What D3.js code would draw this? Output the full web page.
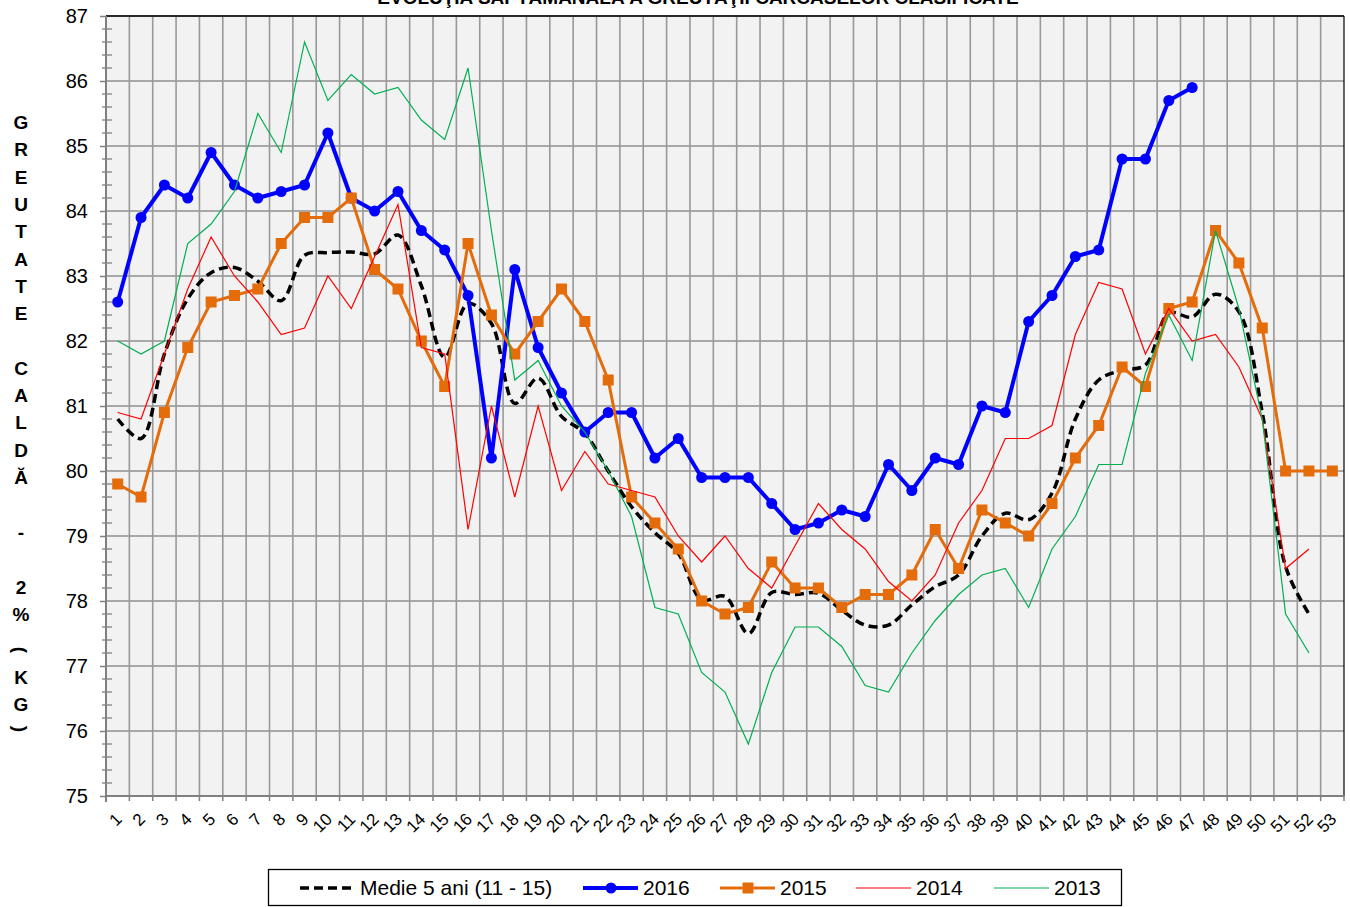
<!DOCTYPE html>
<html>
<head>
<meta charset="utf-8">
<script src="https://cdn.jsdelivr.net/npm/d3@7"></script>
<style>
body { margin: 0; background: #fff; }
text { font-family: Arial, "Liberation Sans", sans-serif; }
</style>
</head>
<body>
<div id="chart"></div>
<script>
// weeks 1..53
const weeks = [1,2,3,4,5,6,7,8,9,10,11,12,13,14,15,16,17,18,19,20,21,22,23,24,25,26,27,
               28,29,30,31,32,33,34,35,36,37,38,39,40,41,42,43,44,45,46,47,48,49,50,51,52,53];
const yTicks = [75,76,77,78,79,80,81,82,83,84,85,86,87];

const medie = [80.8,80.5,81.8,82.65,83.05,83.13,82.92,82.62,83.32,83.36,83.37,83.34,83.63,82.85,81.75,82.58,
               82.27,81.04,81.43,80.84,80.58,80.0,79.45,79.05,78.73,78.02,78.07,77.5,78.13,78.1,78.12,77.86,
               77.63,77.63,77.94,78.22,78.4,79.0,79.35,79.25,79.66,80.8,81.4,81.55,81.63,82.43,82.37,82.72,
               82.45,80.9,78.53,77.8];
const y2016 = [82.6,83.9,84.4,84.2,84.9,84.4,84.2,84.3,84.4,85.2,84.2,84.0,84.3,83.7,83.4,82.7,80.2,83.1,
               81.9,81.2,80.6,80.9,80.9,80.2,80.5,79.9,79.9,79.9,79.5,79.1,79.2,79.4,79.3,80.1,79.7,80.2,
               80.1,81.0,80.9,82.3,82.7,83.3,83.4,84.8,84.8,85.7,85.9];
const y2015 = [79.8,79.6,80.9,81.9,82.6,82.7,82.8,83.5,83.9,83.9,84.2,83.1,82.8,82.0,81.3,83.5,82.4,81.8,
               82.3,82.8,82.3,81.4,79.6,79.2,78.8,78.0,77.8,77.9,78.6,78.2,78.2,77.9,78.1,78.1,78.4,79.1,
               78.5,79.4,79.2,79.0,79.5,80.2,80.7,81.6,81.3,82.5,82.6,83.7,83.2,82.2,80.0,80.0,80.0];
const y2014 = [80.9,80.8,81.8,82.8,83.6,83.0,82.6,82.1,82.2,83.0,82.5,83.3,84.1,81.9,81.8,79.1,81.0,79.6,
               81.0,79.7,80.3,79.8,79.7,79.6,79.0,78.6,79.0,78.5,78.2,78.85,79.5,79.1,78.8,78.3,78.0,78.4,
               79.2,79.7,80.5,80.5,80.7,82.1,82.9,82.8,81.8,82.5,82.0,82.1,81.6,80.8,78.5,78.8];
const y2013 = [82.0,81.8,82.0,83.5,83.8,84.3,85.5,84.9,86.6,85.7,86.1,85.8,85.9,85.4,85.1,86.2,83.7,81.4,
               81.7,81.0,80.6,80.0,79.3,77.9,77.8,76.9,76.6,75.8,76.9,77.6,77.6,77.3,76.7,76.6,77.2,77.7,
               78.1,78.4,78.5,77.9,78.8,79.3,80.1,80.1,81.5,82.4,81.7,83.7,82.5,80.8,77.8,77.2];

const seriesNames = ["Medie 5 ani (11 - 15)", "2016", "2015", "2014", "2013"];
const titleText = "EVOLUŢIA SĂPTĂMÂNALĂ A GREUTĂŢII CARCASELOR CLASIFICATE";
const yTitle = ["G","R","E","U","T","A","T","E","C","A","L","D","Ă","-","2","%","(","K","G",")"];

const margin = {top: 16, right: 6, bottom: 111, left: 106},
      width = 1350 - margin.left - margin.right,
      height = 907 - margin.top - margin.bottom;

const svgRoot = d3.select("#chart").append("svg")
    .attr("width", 1350).attr("height", 907);

// title (cut off at the top like the original)
svgRoot.append("text")
    .attr("x", 698).attr("y", 3.5)
    .attr("text-anchor", "middle")
    .style("font-size", "19px").style("font-weight", "bold")
    .text(titleText);

// vertical stacked y title
const yTitlePos = [122,149.5,177,204,231.5,259,286,313.5,368,395,422.5,450,477.5,532,587,614,650,677,704,729];
yTitle.forEach((ch, i) => {
  const t = svgRoot.append("text")
      .attr("text-anchor", "middle")
      .attr("dy", "0.35em")
      .style("font-size", "19px").style("font-weight", "bold")
      .text(ch);
  if (ch === "(" || ch === ")") t.attr("transform", `translate(21,${yTitlePos[i]}) rotate(90)`);
  else t.attr("transform", `translate(21,${yTitlePos[i]})`);
});

const svg = svgRoot.append("g")
    .attr("transform", `translate(${margin.left}, ${margin.top})`);

const x = d3.scaleBand().domain(weeks).range([0, width]);
const cx = w => x(w) + x.bandwidth() / 2;
const y = d3.scaleLinear().domain([75, 87]).range([height, 0]);

// plot background
svg.append("rect").attr("width", width).attr("height", height).attr("fill", "#f2f2f2");

// grid
svg.append("g").selectAll("line.h").data(yTicks).join("line")
    .attr("x1", 0).attr("x2", width)
    .attr("y1", d => y(d)).attr("y2", d => y(d))
    .attr("stroke", "#8f8f8f").attr("stroke-width", 1.6);
svg.append("g").selectAll("line.v").data(weeks.slice(1)).join("line")
    .attr("x1", d => x(d)).attr("x2", d => x(d))
    .attr("y1", 0).attr("y2", height)
    .attr("stroke", "#999").attr("stroke-width", 1.6);

// frame
svg.append("line").attr("x1", 0).attr("x2", width).attr("y1", 0).attr("y2", 0)
    .attr("stroke", "#000").attr("stroke-width", 1.6);
svg.append("line").attr("x1", width).attr("x2", width).attr("y1", 0).attr("y2", height)
    .attr("stroke", "#000").attr("stroke-width", 1.2);

// y axis
const yAxis = svg.append("g")
    .call(d3.axisLeft(y).tickValues(yTicks).tickSize(6).tickPadding(12).tickFormat(d3.format("d")));
yAxis.select(".domain").remove();
yAxis.selectAll(".tick line").attr("stroke", "#808080").attr("stroke-width", 1.5);
yAxis.selectAll("text").style("font-size", "20px").attr("fill", "#000");
const minor = d3.range(75, 87, 0.2).filter(v => Math.abs(v - Math.round(v)) > 0.01);
svg.append("g").selectAll("line").data(minor).join("line")
    .attr("x1", -4).attr("x2", 6)
    .attr("y1", d => y(d)).attr("y2", d => y(d))
    .attr("stroke", "#808080").attr("stroke-width", 1.3);
svg.append("line").attr("x1", 0).attr("x2", 0).attr("y1", 0).attr("y2", height + 6)
    .attr("stroke", "#808080").attr("stroke-width", 2);

// x axis
const xAxis = svg.append("g").attr("transform", `translate(0, ${height})`)
    .call(d3.axisBottom(x).tickSize(0));
xAxis.select(".domain").remove();
xAxis.selectAll("text")
    .attr("y", 0).attr("x", 0).attr("dy", "0.35em")
    .attr("text-anchor", "end")
    .attr("transform", "translate(1,20) rotate(-45)")
    .style("font-size", "17px").attr("fill", "#000");
svg.append("line").attr("x1", 0).attr("x2", width).attr("y1", height).attr("y2", height)
    .attr("stroke", "#808080").attr("stroke-width", 2);
svg.append("g").selectAll("line").data(weeks.slice(1).concat(["end"])).join("line")
    .attr("x1", d => d === "end" ? width : x(d)).attr("x2", d => d === "end" ? width : x(d))
    .attr("y1", height).attr("y2", height + 5)
    .attr("stroke", "#808080").attr("stroke-width", 1.5);

// series
const lineStraight = d3.line().defined(d => d != null)
    .x((d, i) => cx(weeks[i])).y(d => y(d));
const lineSmooth = d3.line().defined(d => d != null)
    .x((d, i) => cx(weeks[i])).y(d => y(d)).curve(d3.curveCatmullRom.alpha(0.5));

svg.append("path").datum(medie).attr("d", lineSmooth)
    .attr("fill", "none").attr("stroke", "#000").attr("stroke-width", 3.5)
    .attr("stroke-dasharray", "9,5");

svg.append("path").datum(y2016).attr("d", lineStraight)
    .attr("fill", "none").attr("stroke", "#0000ff").attr("stroke-width", 4).attr("stroke-linejoin", "round");
svg.append("g").selectAll("circle").data(y2016).join("circle")
    .attr("cx", (d, i) => cx(weeks[i])).attr("cy", d => y(d)).attr("r", 5.5)
    .attr("fill", "#0000ff");

svg.append("path").datum(y2015).attr("d", lineStraight)
    .attr("fill", "none").attr("stroke", "#e46c0a").attr("stroke-width", 3);
svg.append("g").selectAll("rect").data(y2015).join("rect")
    .attr("x", (d, i) => cx(weeks[i]) - 5.5).attr("y", d => y(d) - 5.5)
    .attr("width", 11).attr("height", 11)
    .attr("fill", "#e46c0a");

svg.append("path").datum(y2014).attr("d", lineStraight)
    .attr("fill", "none").attr("stroke", "#ff0000").attr("stroke-width", 1.2);
svg.append("path").datum(y2013).attr("d", lineStraight)
    .attr("fill", "none").attr("stroke", "#00b050").attr("stroke-width", 1.2);

// legend
const leg = svgRoot.append("g");
leg.append("rect").attr("x", 268.5).attr("y", 869.5).attr("width", 853).attr("height", 36)
    .attr("fill", "#fff").attr("stroke", "#000").attr("stroke-width", 1.3);
const legX = [300, 583, 720, 856, 994];
const legY = 888;
const legStyle = [
  {color: "#000", w: 3.5, dash: "9,5", mark: null},
  {color: "#0000ff", w: 4, dash: null, mark: "circle"},
  {color: "#e46c0a", w: 3, dash: null, mark: "rect"},
  {color: "#ff0000", w: 1.2, dash: null, mark: null},
  {color: "#00b050", w: 1.2, dash: null, mark: null}
];
seriesNames.forEach((name, i) => {
  const s = legStyle[i], x0 = legX[i];
  leg.append("line").attr("x1", x0).attr("x2", x0 + 55).attr("y1", legY).attr("y2", legY)
      .attr("stroke", s.color).attr("stroke-width", s.w)
      .attr("stroke-dasharray", s.dash);
  if (s.mark === "circle")
    leg.append("circle").attr("cx", x0 + 28).attr("cy", legY).attr("r", 5.5).attr("fill", s.color);
  if (s.mark === "rect")
    leg.append("rect").attr("x", x0 + 22.5).attr("y", legY - 5.5).attr("width", 11).attr("height", 11).attr("fill", s.color);
  leg.append("text").attr("x", x0 + 60).attr("y", legY).attr("dy", "0.35em")
      .style("font-size", "21px").text(name);
});
</script>
</body>
</html>
